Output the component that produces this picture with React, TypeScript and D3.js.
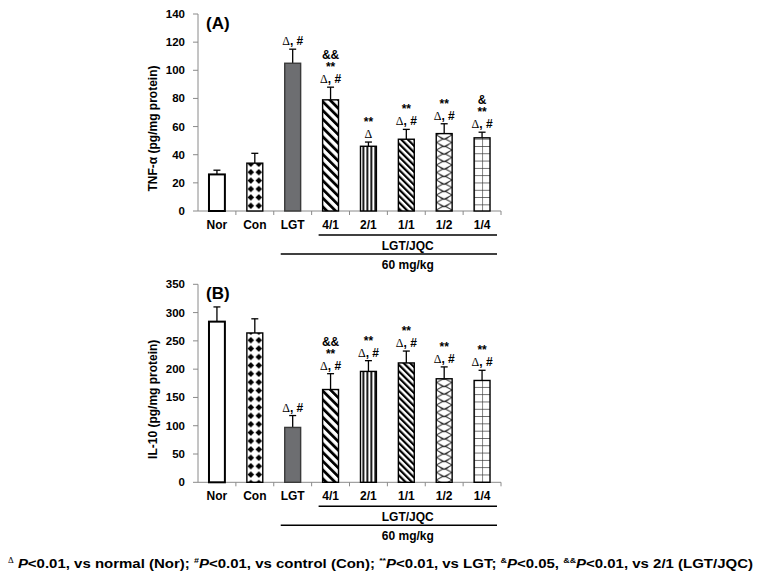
import { useEffect, useRef } from 'react';
import * as d3 from 'd3';

const categories = ["Nor", "Con", "LGT", "4/1", "2/1", "1/1", "1/2", "1/4"];
const fills = ["white", "diamond", "solid", "wideDiag", "vertical", "diag", "wave", "grid"];

const tnfMean = [26, 34, 105, 79, 46, 51, 55, 52];
const tnfErr = [3, 7, 10, 9, 3, 7, 7, 4];
const tnfTicks = [0, 20, 40, 60, 80, 100, 120, 140];
const tnfMarks = [[], [], ["Δ, #"], ["Δ, #", "**", "&&"], ["Δ", "**"], ["Δ, #", "**"], ["Δ, #", "**"], ["Δ, #", "**", "&"]];

const il10Mean = [284, 264, 97, 164, 196, 211, 183, 180];
const il10Err = [26, 25, 21, 28, 19, 21, 21, 18];
const il10Ticks = [0, 50, 100, 150, 200, 250, 300, 350];
const il10Marks = [[], [], ["Δ, #"], ["Δ, #", "**", "&&"], ["Δ, #", "**"], ["Δ, #", "**"], ["Δ, #", "**"], ["Δ, #", "**"]];

const groupLabel = "LGT/JQC";
const doseLabel = "60 mg/kg";

const SANS = "'Liberation Sans', Arial, sans-serif";
const SERIF = "'Liberation Serif', 'Times New Roman', serif";

export default function App() {
  const svgRef = useRef<SVGSVGElement>(null);

  useEffect(() => {
    if (!svgRef.current) return;
    document.body.style.margin = "0";
    const svg = d3.select(svgRef.current);
    svg.selectAll("*").remove();
    const defs = svg.append("defs");

    const x = d3.scaleBand<string>()
      .domain(categories)
      .range([198, 501])
      .paddingInner(0.58)
      .paddingOuter(0.29);
    const step = x.step();
    const bw = x.bandwidth();
    const axisColor = "#8a8a8a";

    function makePattern(id: string, kind: string, bx: number) {
      if (kind === "white" || kind === "solid") return null;
      const p = defs.append("pattern").attr("id", id).attr("patternUnits", "userSpaceOnUse");
      if (kind === "diamond") {
        const w = bw / 2, h = 8.4, r = 3.3;
        p.attr("x", bx).attr("y", 0).attr("width", w).attr("height", h);
        p.append("rect").attr("width", w).attr("height", h).attr("fill", "white");
        const cx = w / 2, cy = h / 2;
        p.append("path")
          .attr("d", `M${cx},${cy - r}L${cx + r},${cy}L${cx},${cy + r}L${cx - r},${cy}Z`)
          .attr("fill", "black");
      } else if (kind === "wideDiag" || kind === "diag") {
        const per = kind === "wideDiag" ? 6.2 : 4.6;
        const th = kind === "wideDiag" ? 2.8 : 2.2;
        p.attr("width", per).attr("height", per).attr("patternTransform", "rotate(-45)");
        p.append("rect").attr("width", per).attr("height", per).attr("fill", "white");
        p.append("rect").attr("width", th).attr("height", per).attr("fill", "black");
      } else if (kind === "vertical") {
        const per = bw / 4;
        p.attr("x", bx + per / 2).attr("width", per).attr("height", 10);
        p.append("rect").attr("width", per).attr("height", 10).attr("fill", "white");
        p.append("rect").attr("width", 1.8).attr("height", 10).attr("fill", "black");
      } else if (kind === "wave") {
        const w = bw, h = 7.5;
        p.attr("x", bx).attr("width", w).attr("height", h);
        p.append("rect").attr("width", w).attr("height", h).attr("fill", "white");
        p.append("path")
          .attr("d", `M0,0L${w * 0.45},${h * 0.5}L0,${h}M${w},0L${w * 0.55},${h * 0.5}L${w},${h}` +
            `M${w * 0.2},${h * 0.25}Q${w * 0.5},${h * 0.9} ${w * 0.8},${h * 0.25}`)
          .attr("fill", "none").attr("stroke", "#222").attr("stroke-width", 1);
      } else if (kind === "grid") {
        const w = bw / 2, h = 7.3;
        p.attr("x", bx).attr("y", 0).attr("width", w).attr("height", h);
        p.append("rect").attr("width", w).attr("height", h).attr("fill", "white");
        p.append("path").attr("d", `M0,0V${h}M0,0H${w}`)
          .attr("stroke", "#333").attr("stroke-width", 1.2).attr("fill", "none");
      }
      return `url(#${id})`;
    }

    function drawPanel(key: string, means: number[], errs: number[], ticks: number[], marks: string[][],
      y0: number, yTop: number, label: string, title: string) {
      const y = d3.scaleLinear().domain([0, ticks[ticks.length - 1]]).range([y0, yTop]);
      const g = svg.append("g");

      // axes
      g.append("line").attr("x1", 198).attr("x2", 198).attr("y1", y0).attr("y2", yTop)
        .attr("stroke", axisColor).attr("stroke-width", 1);
      g.append("line").attr("x1", 198).attr("x2", 198 + step * categories.length).attr("y1", y0).attr("y2", y0)
        .attr("stroke", axisColor).attr("stroke-width", 1);
      ticks.forEach(t => {
        g.append("line").attr("x1", 193).attr("x2", 198).attr("y1", y(t)).attr("y2", y(t))
          .attr("stroke", axisColor);
        g.append("text").attr("x", 185).attr("y", y(t)).attr("dy", "0.35em")
          .attr("text-anchor", "end").attr("font-family", SANS).attr("font-weight", "bold")
          .attr("font-size", 11.5).text(t);
      });
      categories.forEach((c, i) => {
        const tx = 198 + step * (i + 1);
        g.append("line").attr("x1", tx).attr("x2", tx).attr("y1", y0).attr("y2", y0 + 4)
          .attr("stroke", axisColor);
        g.append("text").attr("x", x(c)! + bw / 2).attr("y", y0 + 18)
          .attr("text-anchor", "middle").attr("font-family", SANS).attr("font-weight", "bold")
          .attr("font-size", 12).text(c);
      });

      // bars
      categories.forEach((c, i) => {
        const bx = x(c)!;
        const kind = fills[i];
        const pat = makePattern(`${key}-${i}`, kind, bx);
        const fill = kind === "solid" ? "#6d6e71" : pat ?? "white";
        // error bar
        const cx = bx + bw / 2;
        g.append("line").attr("x1", cx).attr("x2", cx).attr("y1", y(means[i])).attr("y2", y(means[i] + errs[i]))
          .attr("stroke", "black").attr("stroke-width", 1.3);
        g.append("line").attr("x1", cx - 3.5).attr("x2", cx + 3.5)
          .attr("y1", y(means[i] + errs[i])).attr("y2", y(means[i] + errs[i]))
          .attr("stroke", "black").attr("stroke-width", 1.3);
        g.append("rect").attr("x", bx).attr("y", y(means[i])).attr("width", bw)
          .attr("height", y0 - y(means[i])).attr("fill", fill)
          .attr("stroke", kind === "solid" ? "#3a3a3a" : "black")
          .attr("stroke-width", kind === "white" ? 2 : 1.4);

        // significance marks, bottom line first
        const offsets = [-4, -16, -28];
        marks[i].forEach((m, j) => {
          const t = g.append("text").attr("x", cx).attr("y", y(means[i] + errs[i]) + offsets[j])
            .attr("text-anchor", "middle").attr("font-family", SANS).attr("font-weight", "bold")
            .attr("font-size", 12);
          if (m.startsWith("Δ")) {
            t.append("tspan").attr("font-family", SERIF).attr("font-weight", "normal").text("Δ");
            if (m.length > 1) t.append("tspan").text(m.slice(1));
          } else {
            t.text(m);
          }
        });
      });

      // group brackets
      const l1x1 = x("4/1")! - 4, l2x1 = x("LGT")! - 4, lx2 = 198 + step * categories.length - 4;
      const mid = (l1x1 + lx2) / 2;
      g.append("line").attr("x1", l1x1).attr("x2", lx2).attr("y1", y0 + 24).attr("y2", y0 + 24)
        .attr("stroke", "black").attr("stroke-width", 1.5);
      g.append("text").attr("x", mid).attr("y", y0 + 39).attr("text-anchor", "middle")
        .attr("font-family", SANS).attr("font-weight", "bold").attr("font-size", 12).text(groupLabel);
      g.append("line").attr("x1", l2x1).attr("x2", lx2).attr("y1", y0 + 43).attr("y2", y0 + 43)
        .attr("stroke", "black").attr("stroke-width", 1.5);
      g.append("text").attr("x", mid).attr("y", y0 + 58).attr("text-anchor", "middle")
        .attr("font-family", SANS).attr("font-weight", "bold").attr("font-size", 12).text(doseLabel);

      // panel label and y title
      g.append("text").attr("x", 206).attr("y", yTop + 15).attr("font-family", SANS)
        .attr("font-weight", "bold").attr("font-size", 17).text(label);
      const ty = (y0 + yTop) / 2 + 16;
      g.append("text").attr("transform", `translate(157,${ty}) rotate(-90)`)
        .attr("text-anchor", "middle").attr("font-family", SANS).attr("font-weight", "bold")
        .attr("font-size", 12).text(title);
    }

    drawPanel("a", tnfMean, tnfErr, tnfTicks, tnfMarks, 211, 14, "(A)", "TNF-α (pg/mg protein)");
    drawPanel("b", il10Mean, il10Err, il10Ticks, il10Marks, 482.3, 284.3, "(B)", "IL-10 (pg/mg protein)");

    // footnote
    const fn = svg.append("text").attr("x", 8).attr("y", 568)
      .attr("font-family", "'Liberation Sans Narrow', 'Arial Narrow', " + SANS)
      .attr("font-weight", "bold").attr("font-size", 13.5)
      .attr("textLength", 745).attr("lengthAdjust", "spacingAndGlyphs");
    let pendingDy = 0;
    const part = (s: string) => {
      const t = fn.append("tspan").text(s);
      if (pendingDy) { t.attr("dy", pendingDy); pendingDy = 0; }
      return t;
    };
    const sup = (s: string, serif = false) => {
      part(s).attr("font-size", 8).attr("dy", -5)
        .attr("font-family", serif ? SERIF : null).attr("font-weight", serif ? "normal" : null);
      pendingDy = 5;
    };
    const ital = (s: string) => part(s).attr("font-style", "italic");
    const plain = (s: string) => part(s);
    sup("Δ", true); ital(" P"); plain("<0.01, vs normal (Nor); ");
    sup("#"); ital("P"); plain("<0.01, vs control (Con); ");
    sup("**"); ital("P"); plain("<0.01, vs LGT; ");
    sup("&"); ital("P"); plain("<0.05, ");
    sup("&&"); ital("P"); plain("<0.01, vs 2/1 (LGT/JQC)");
  }, []);

  return (
    <svg ref={svgRef} width={761} height={579} style={{ display: "block", background: "white" }} />
  );
}
